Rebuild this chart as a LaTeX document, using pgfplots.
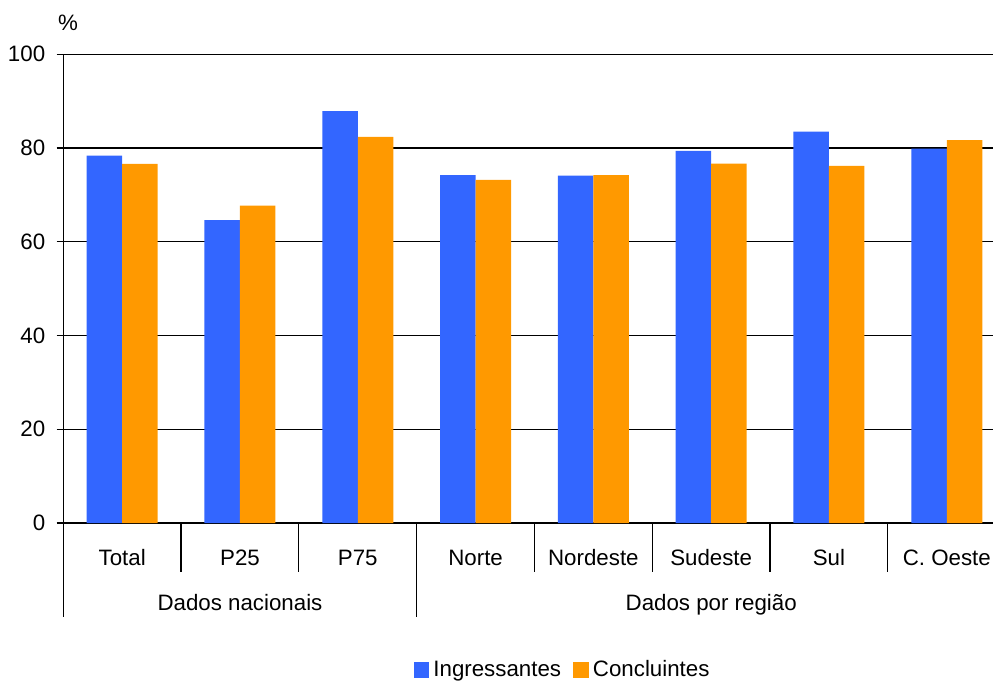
\documentclass[border=0pt]{standalone}
\usepackage{fontspec}
\setmainfont{Liberation Sans}
\usepackage{pgfplots}
\pgfplotsset{compat=1.18}
\definecolor{ing}{HTML}{3366FF}
\definecolor{con}{HTML}{FF9900}
\begin{document}
\begin{tikzpicture}[font=\fontsize{11.15}{13.4}\selectfont]
\path[use as bounding box] (-31.65pt,-79.5pt) rectangle (464.85pt,261.5pt);
\begin{axis}[
  at={(0pt,0pt)}, anchor=south west,
  scale only axis, width=471.2pt, height=234.35pt,
  ybar=0pt, bar width=17.75pt,
  xmin=-0.5, xmax=7.5, ymin=0, ymax=100,
  enlargelimits=false,
  xtick={0,1,2,3,4,5,6,7},
  xticklabels={Total,P25,P75,Norte,Nordeste,Sudeste,Sul,C. Oeste},
  xtick style={draw=none},
  xticklabel style={anchor=base, yshift=-18pt},
  ytick={0,20,40,60,80,100},
  axis x line*=bottom, axis y line*=left,
  axis line style={-, black, line width=0.6pt},
  ymajorgrids, grid style={black, line width=0.6pt},
  tick align=outside, major tick length=3.35pt,
  ytick style={black, line width=0.6pt},
  /pgf/number format/assume math mode=true,
  yticklabel style={anchor=east, inner sep=0pt, xshift=-5.5pt},
  legend style={draw=none, at={(0.531,-0.3136)}, anchor=center, legend columns=-1,
    /tikz/every even column/.append style={column sep=4.2pt}, inner sep=0pt},
  legend image code/.code={\fill[#1] (0pt,-3.875pt) rectangle (7.75pt,3.875pt);},
  clip=false,
]
\addplot[fill=ing, draw=none] coordinates {(0,78.4) (1,64.6) (2,87.9) (3,74.2) (4,74.1) (5,79.4) (6,83.5) (7,79.9)};
\addplot[fill=con, draw=none] coordinates {(0,76.6) (1,67.7) (2,82.4) (3,73.2) (4,74.2) (5,76.7) (6,76.2) (7,81.7)};
\legend{Ingressantes,Concluintes}
\draw[black, line width=0.6pt] (axis cs:0.5,0) -- ++(0pt,-24.35pt);
\draw[black, line width=0.6pt] (axis cs:1.5,0) -- ++(0pt,-24.35pt);
\draw[black, line width=0.6pt] (axis cs:3.5,0) -- ++(0pt,-24.35pt);
\draw[black, line width=0.6pt] (axis cs:4.5,0) -- ++(0pt,-24.35pt);
\draw[black, line width=0.6pt] (axis cs:5.5,0) -- ++(0pt,-24.35pt);
\draw[black, line width=0.6pt] (axis cs:6.5,0) -- ++(0pt,-24.35pt);
\draw[black, line width=0.6pt] (axis cs:-0.5,0) -- ++(0pt,-47.2pt);
\draw[black, line width=0.6pt] (axis cs:2.5,0) -- ++(0pt,-47.2pt);
\draw[black, line width=0.6pt] (axis cs:7.5,0) -- ++(0pt,-47.2pt);
\node[anchor=base] at ([yshift=-43.5pt]axis cs:1,0) {Dados nacionais};
\node[anchor=base] at ([yshift=-43.5pt]axis cs:5,0) {Dados por região};
\end{axis}
\node at (2.35pt,250pt) {\%};
\end{tikzpicture}
\end{document}
